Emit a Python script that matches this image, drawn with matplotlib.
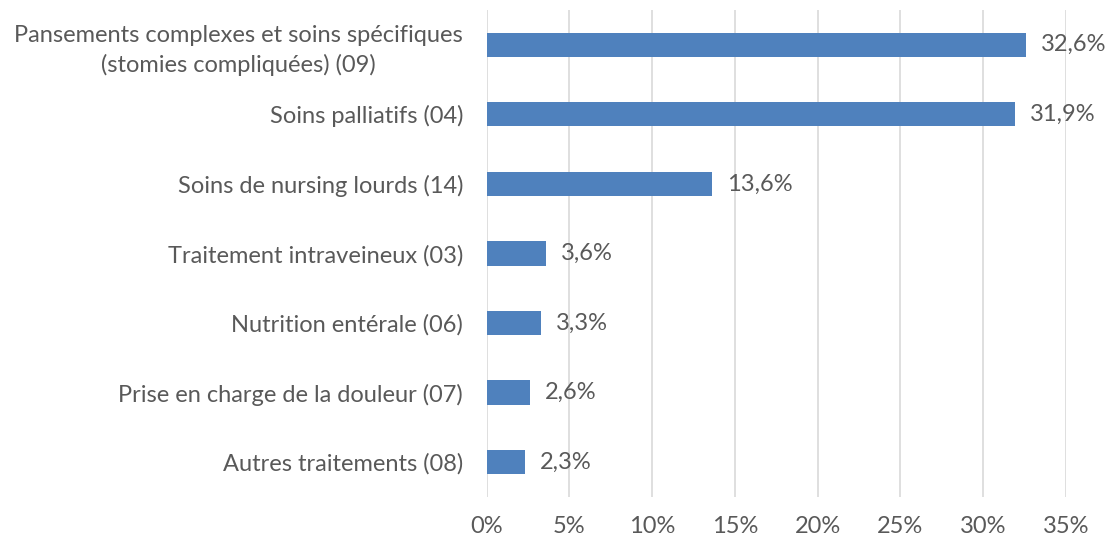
import matplotlib
matplotlib.use("Agg")
import matplotlib.pyplot as plt
from matplotlib.ticker import FuncFormatter

categories = [
    "Pansements complexes et soins spécifiques\n(stomies compliquées) (09)",
    "Soins palliatifs (04)",
    "Soins de nursing lourds (14)",
    "Traitement intraveineux (03)",
    "Nutrition entérale (06)",
    "Prise en charge de la douleur (07)",
    "Autres traitements (08)",
]
values = [32.6, 31.9, 13.6, 3.6, 3.3, 2.6, 2.3]
xticks = [0, 5, 10, 15, 20, 25, 30, 35]

plt.rcParams['font.family'] = ['Lato', 'DejaVu Sans']
text_color = '#595959'
fs = 17

fig = plt.figure(figsize=(11.11, 5.40), dpi=100)
ax = fig.add_axes([0.438, 0.08, 0.5215, 0.9015])

y = list(range(len(categories)))
ax.barh(y, values, height=0.35, color='#4F81BD', zorder=3)
for yi, v in zip(y, values):
    ax.text(v + 0.9, yi, f"{v:.1f}%".replace('.', ','), va='center', ha='left',
            fontsize=fs, color=text_color)

ax.set_yticks(y)
ax.set_yticklabels(categories, fontsize=fs, color=text_color)
for lbl in ax.get_yticklabels():
    lbl.set_multialignment('center')
    lbl.set_linespacing(1.45)
ax.tick_params(axis='y', length=0, pad=17)
ax.set_ylim(len(categories) - 0.5, -0.5)

ax.set_xlim(0, 35)
ax.set_xticks(xticks)
ax.xaxis.set_major_formatter(FuncFormatter(lambda v, p: f"{int(v)}%"))
ax.tick_params(axis='x', length=0, pad=14, labelsize=fs, colors=text_color)
ax.grid(axis='x', color='#D9D9D9', linewidth=1.2, zorder=0)
for s in ax.spines.values():
    s.set_visible(False)

fig.savefig("out.png", dpi=100)
